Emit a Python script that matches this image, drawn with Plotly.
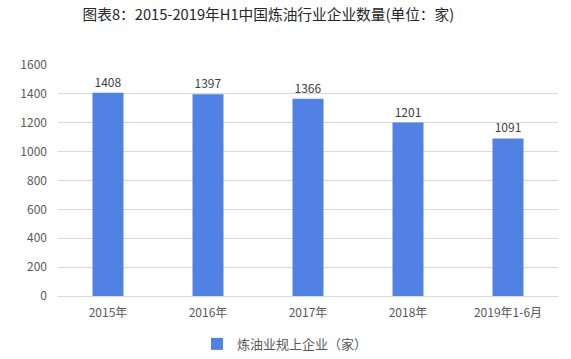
import plotly.graph_objects as go

categories = ["2015年", "2016年", "2017年", "2018年", "2019年1-6月"]
values = [1408, 1397, 1366, 1201, 1091]
series_name = "炼油业规上企业（家）"
title_text = "图表8：2015-2019年H1中国炼油行业企业数量(单位：家)"

font_family = "Noto Sans CJK SC, sans-serif"
bar_color = "#5182E3"

fig = go.Figure()
fig.add_trace(go.Bar(
    x=categories, y=values, name=series_name,
    marker=dict(color=bar_color, line=dict(width=0)),
    width=0.31,
    text=[str(v) for v in values], textposition="outside",
    textfont=dict(size=12, color="#404040", family=font_family),
    cliponaxis=False,
))
fig.update_layout(
    width=571, height=359,
    margin=dict(l=58, r=13, t=65, b=63, autoexpand=False),
    paper_bgcolor="white", plot_bgcolor="white",
    title=dict(text=title_text, x=0.47, xanchor="center", y=0.958, yanchor="middle",
               font=dict(size=14.7, color="#262626", family=font_family)),
    font=dict(family=font_family, color="#595959", size=12),
    xaxis=dict(showgrid=False, showline=True, linecolor="#D9D9D9", linewidth=1,
               ticks="", tickfont=dict(size=12, color="#595959"), ticklabelstandoff=6),
    yaxis=dict(range=[0, 1600], dtick=200, showgrid=True, gridcolor="#D9D9D9",
               gridwidth=1, zeroline=False, showline=False, ticks="",
               tickfont=dict(size=12, color="#595959"), ticklabelstandoff=10),
    showlegend=True,
    legend=dict(orientation="h", xref="container", x=0.345, xanchor="left",
                yref="container", y=0.042, yanchor="middle",
                font=dict(size=13, color="#595959")),
)
fig.write_html("out.html", config={"displayModeBar": False},
               post_script="document.body.style.margin='0';document.body.style.overflow='hidden';")
